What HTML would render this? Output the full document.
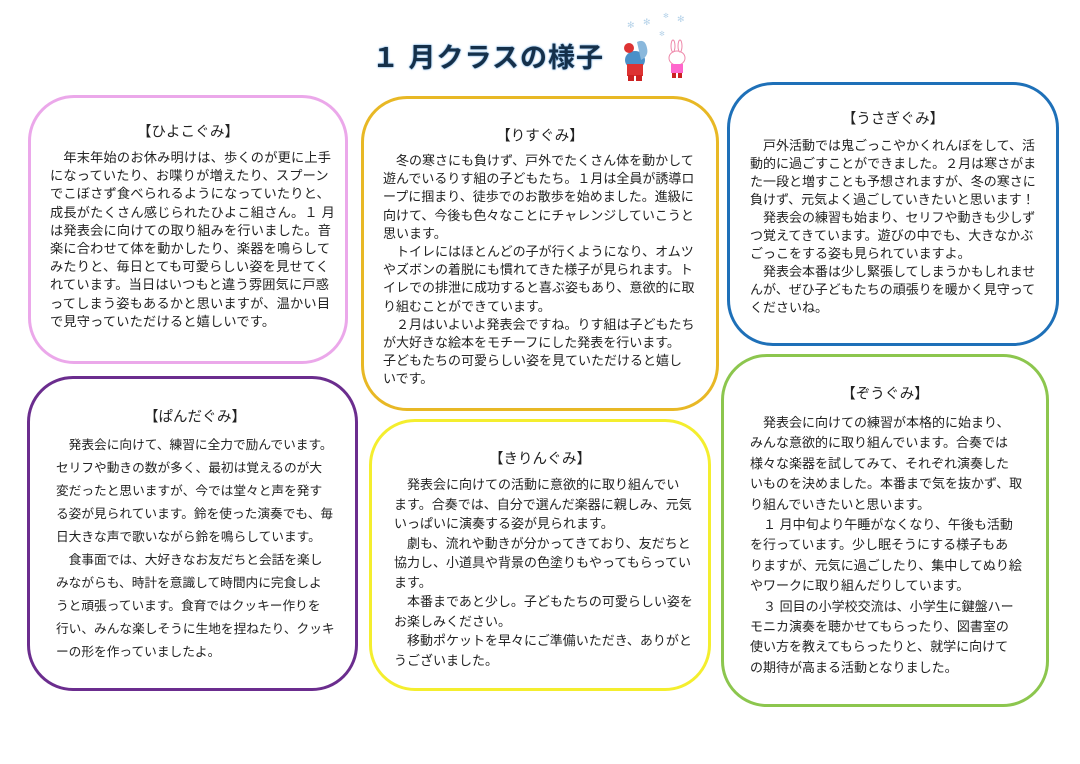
<!DOCTYPE html>
<html><head><meta charset="utf-8"><style>
body{margin:0;width:1080px;height:764px;background:#fff;position:relative;overflow:hidden;font-family:"Liberation Sans","Noto Sans CJK JP",sans-serif;color:#222}
.b{position:absolute;box-sizing:border-box;border:3px solid;border-radius:46px;background:#fff}
.t{position:absolute;font-size:13px;letter-spacing:0;white-space:nowrap}
.t div{white-space:nowrap}
.h{position:absolute;font-size:14.5px;white-space:nowrap;transform:translate(-50%,-50%)}
</style></head><body>

<div style="position:absolute;left:372px;top:36px;font-size:27px;font-weight:bold;color:#15304a;letter-spacing:1px;text-shadow:0 0 2px #6fa8dc,0 0 1px #6fa8dc">１ 月クラスの様子</div>
<svg style="position:absolute;left:615px;top:12px" width="90" height="75">
<text x="12" y="16" fill="#b8d4ea" font-size="9">✻</text><text x="28" y="13" fill="#b8d4ea" font-size="9">✻</text>
<text x="48" y="6" fill="#b8d4ea" font-size="7">✻</text><text x="62" y="10" fill="#b8d4ea" font-size="9">✻</text><text x="44" y="24" fill="#b8d4ea" font-size="7">✻</text>
<ellipse cx="20" cy="48" rx="10" ry="9" fill="#4a90c8"/><rect x="12" y="52" width="16" height="12" fill="#d33"/>
<path d="M22 30 q8 -4 10 6 q2 8 -6 12" fill="#8ab8dc"/><circle cx="14" cy="36" r="5" fill="#d33"/>
<rect x="13" y="63" width="6" height="6" fill="#c22"/><rect x="21" y="63" width="6" height="6" fill="#c22"/>
<ellipse cx="62" cy="46" rx="8" ry="7" fill="#fff" stroke="#e8a" stroke-width="1"/><ellipse cx="58" cy="34" rx="2" ry="6" fill="#fff" stroke="#e8a"/><ellipse cx="65" cy="34" rx="2" ry="6" fill="#fff" stroke="#e8a"/>
<rect x="56" y="52" width="12" height="9" fill="#f6c"/><rect x="57" y="61" width="4" height="5" fill="#c22"/><rect x="63" y="61" width="4" height="5" fill="#c22"/>
</svg>

<div class="b" style="left:28px;top:95px;width:320px;height:269px;border-color:#eba8ea"></div>
<div class="b" style="left:361px;top:96px;width:358px;height:315px;border-color:#e8b825"></div>
<div class="b" style="left:727px;top:82px;width:332px;height:264px;border-color:#1e70b8"></div>
<div class="b" style="left:27px;top:376px;width:331px;height:315px;border-color:#6b2d8e"></div>
<div class="b" style="left:369px;top:419px;width:342px;height:272px;border-color:#f4ee2e"></div>
<div class="b" style="left:721px;top:354px;width:328px;height:353px;border-color:#8cc64e"></div>

<div class="h" style="left:188px;top:131px">【ひよこぐみ】</div>
<div class="t" style="left:50px;top:149px;line-height:18.2px;font-size:13.2px;letter-spacing:0.2px">
<div>　年末年始のお休み明けは、歩くのが更に上手</div><div>になっていたり、お喋りが増えたり、スプーン</div><div>でこぼさず食べられるようになっていたりと、</div><div>成長がたくさん感じられたひよこ組さん。１ 月</div><div>は発表会に向けての取り組みを行いました。音</div><div>楽に合わせて体を動かしたり、楽器を鳴らして</div><div>みたりと、毎日とても可愛らしい姿を見せてく</div><div>れています。当日はいつもと違う雰囲気に戸惑</div><div>ってしまう姿もあるかと思いますが、温かい目</div><div>で見守っていただけると嬉しいです。</div></div>

<div class="h" style="left:540px;top:135px">【りすぐみ】</div>
<div class="t" style="left:383px;top:152px;line-height:18.2px">
<div>　冬の寒さにも負けず、戸外でたくさん体を動かして</div><div>遊んでいるりす組の子どもたち。１月は全員が誘導ロ</div><div>ープに掴まり、徒歩でのお散歩を始めました。進級に</div><div>向けて、今後も色々なことにチャレンジしていこうと</div><div>思います。</div><div>　トイレにはほとんどの子が行くようになり、オムツ</div><div>やズボンの着脱にも慣れてきた様子が見られます。ト</div><div>イレでの排泄に成功すると喜ぶ姿もあり、意欲的に取</div><div>り組むことができています。</div><div>　２月はいよいよ発表会ですね。りす組は子どもたち</div><div>が大好きな絵本をモチーフにした発表を行います。</div><div>子どもたちの可愛らしい姿を見ていただけると嬉し</div><div>いです。</div></div>

<div class="h" style="left:893px;top:118px">【うさぎぐみ】</div>
<div class="t" style="left:750px;top:137px;line-height:18px">
<div>　戸外活動では鬼ごっこやかくれんぼをして、活</div><div>動的に過ごすことができました。２月は寒さがま</div><div>た一段と増すことも予想されますが、冬の寒さに</div><div>負けず、元気よく過ごしていきたいと思います！</div><div>　発表会の練習も始まり、セリフや動きも少しず</div><div>つ覚えてきています。遊びの中でも、大きなかぶ</div><div>ごっこをする姿も見られていますよ。</div><div>　発表会本番は少し緊張してしまうかもしれませ</div><div>んが、ぜひ子どもたちの頑張りを暖かく見守って</div><div>くださいね。</div></div>

<div class="h" style="left:195px;top:416px">【ぱんだぐみ】</div>
<div class="t" style="left:56px;top:434px;line-height:23px;font-size:12.7px">
<div>　発表会に向けて、練習に全力で励んでいます。</div><div>セリフや動きの数が多く、最初は覚えるのが大</div><div>変だったと思いますが、今では堂々と声を発す</div><div>る姿が見られています。鈴を使った演奏でも、毎</div><div>日大きな声で歌いながら鈴を鳴らしています。</div><div>　食事面では、大好きなお友だちと会話を楽し</div><div>みながらも、時計を意識して時間内に完食しよ</div><div>うと頑張っています。食育ではクッキー作りを</div><div>行い、みんな楽しそうに生地を捏ねたり、クッキ</div><div>ーの形を作っていましたよ。</div></div>

<div class="h" style="left:540px;top:458px">【きりんぐみ】</div>
<div class="t" style="left:394px;top:475px;line-height:19.5px">
<div>　発表会に向けての活動に意欲的に取り組んでい</div><div>ます。合奏では、自分で選んだ楽器に親しみ、元気</div><div>いっぱいに演奏する姿が見られます。</div><div>　劇も、流れや動きが分かってきており、友だちと</div><div>協力し、小道具や背景の色塗りもやってもらってい</div><div>ます。</div><div>　本番まであと少し。子どもたちの可愛らしい姿を</div><div>お楽しみください。</div><div>　移動ポケットを早々にご準備いただき、ありがと</div><div>うございました。</div></div>

<div class="h" style="left:885px;top:393px">【ぞうぐみ】</div>
<div class="t" style="left:750px;top:413px;line-height:20.4px">
<div>　発表会に向けての練習が本格的に始まり、</div><div>みんな意欲的に取り組んでいます。合奏では</div><div>様々な楽器を試してみて、それぞれ演奏した</div><div>いものを決めました。本番まで気を抜かず、取</div><div>り組んでいきたいと思います。</div><div>　１ 月中旬より午睡がなくなり、午後も活動</div><div>を行っています。少し眠そうにする様子もあ</div><div>りますが、元気に過ごしたり、集中してぬり絵</div><div>やワークに取り組んだりしています。</div><div>　３ 回目の小学校交流は、小学生に鍵盤ハー</div><div>モニカ演奏を聴かせてもらったり、図書室の</div><div>使い方を教えてもらったりと、就学に向けて</div><div>の期待が高まる活動となりました。</div></div>

</body></html>
